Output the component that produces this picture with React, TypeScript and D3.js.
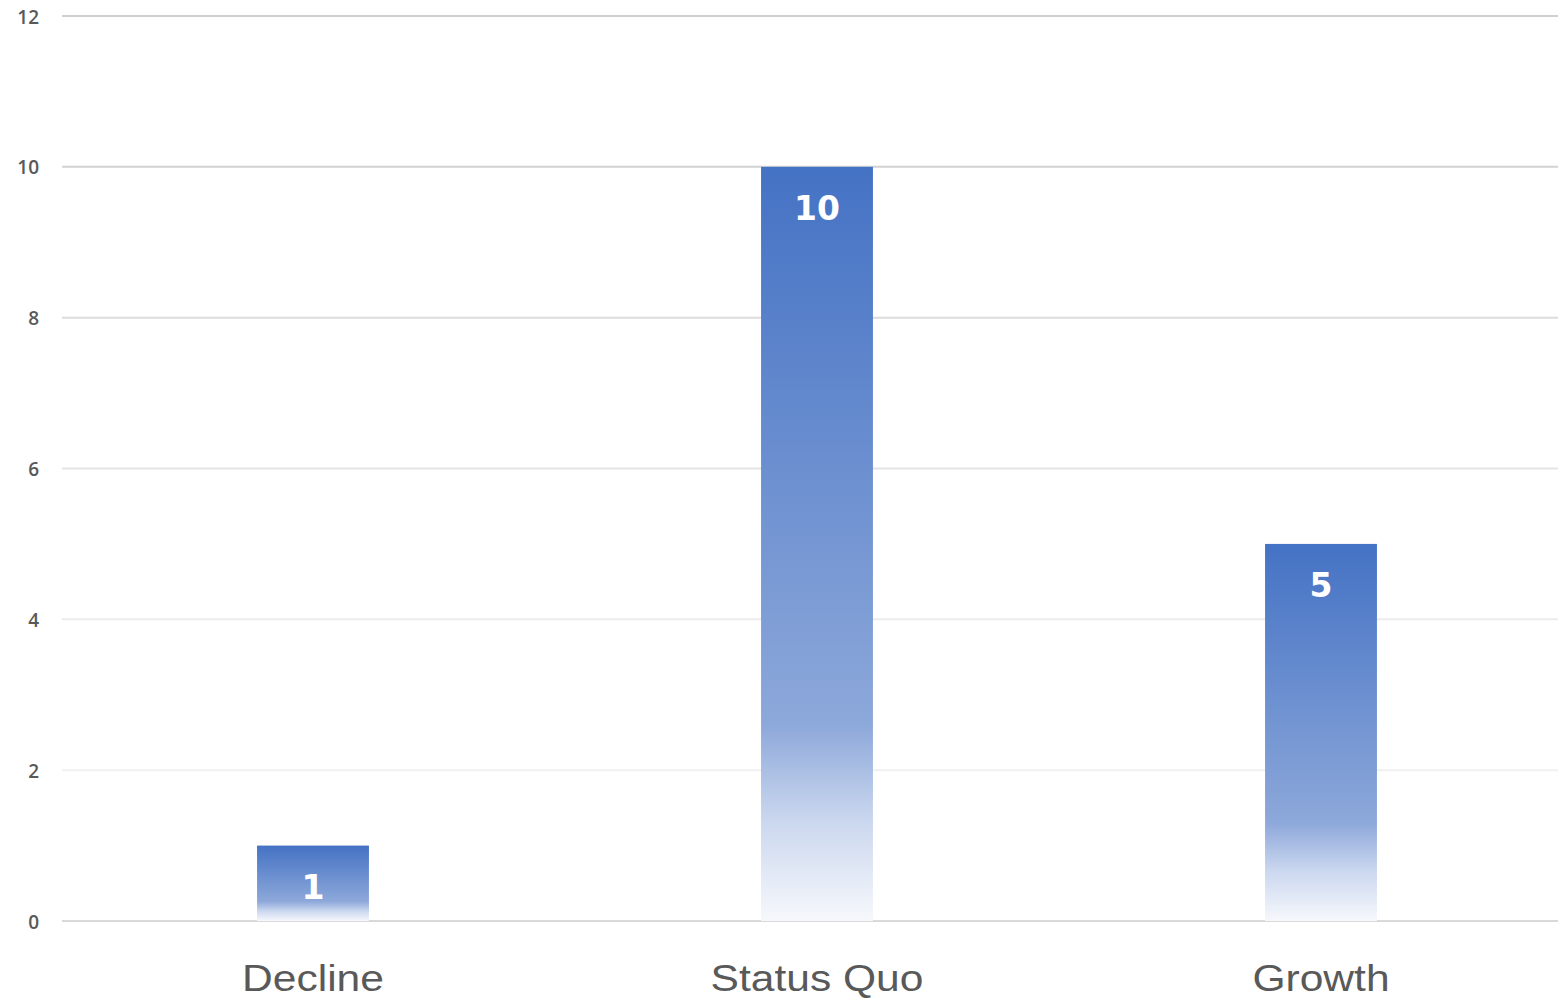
import React from "react";
import * as d3 from "d3";

// Scenario counts
const categories: string[] = ["Decline", "Status Quo", "Growth"];
const counts: number[] = [1, 10, 5];
const yTicks: number[] = [0, 2, 4, 6, 8, 10, 12];

// Gridline shades, top lines slightly darker
const gridShade: Record<number, string> = {
  0: "#d9d9d9",
  2: "#f0f0f0",
  4: "#ececec",
  6: "#e4e4e4",
  8: "#dcdcdc",
  10: "#d2d2d2",
  12: "#cfcfcf",
};

const W = 1558;
const H = 998;
const plotTop = 16;
const plotBottom = 921;
const plotLeft = 61;
const plotRight = 1573;
const gridLeft = 62;

export default function App() {
  const x = d3
    .scaleBand<string>()
    .domain(categories)
    .range([plotLeft, plotRight])
    .paddingInner(0.778)
    .paddingOuter(0.389);
  const y = d3.scaleLinear().domain([0, 12]).range([plotBottom, plotTop]);

  return (
    <svg
      width={W}
      height={H}
      style={{ position: "absolute", left: 0, top: 0, display: "block", background: "#fff" }}
    >
      <defs>
        <linearGradient id="barFade" x1="0" y1="0" x2="0" y2="1">
          <stop offset="0" stopColor="#4472C4" />
          <stop offset="0.74" stopColor="#8DA8DA" />
          <stop offset="0.87" stopColor="#CCD8EF" />
          <stop offset="1" stopColor="#F6F8FC" />
        </linearGradient>
      </defs>

      {yTicks.map((t) => (
        <g key={t}>
          <line
            x1={gridLeft}
            x2={W}
            y1={y(t)}
            y2={y(t)}
            stroke={gridShade[t]}
            strokeWidth={2}
          />
          <text
            x={39}
            y={y(t) + 1}
            dy="0.35em"
            textAnchor="end"
            fontFamily="'Open Sans', 'Liberation Sans', sans-serif"
            fontSize={19}
            fontWeight={600}
            fill="#595959"
          >
            {t}
          </text>
        </g>
      ))}

      {categories.map((c, i) => {
        const bx = x(c) as number;
        const bw = x.bandwidth();
        const top = y(counts[i]);
        return (
          <g key={c}>
            <rect
              x={bx}
              y={top}
              width={bw}
              height={y(0) - top}
              fill="url(#barFade)"
            />
            <text
              x={bx + bw / 2}
              y={top + 53}
              textAnchor="middle"
              fontFamily="'DejaVu Sans', sans-serif"
              fontWeight="bold"
              fontSize={33}
              fill="#ffffff"
            >
              {counts[i]}
            </text>
            <text
              transform={`translate(${bx + bw / 2},${991}) scale(1.15,1)`}
              textAnchor="middle"
              fontFamily="'Liberation Sans', Arial, sans-serif"
              fontSize={37}
              fill="#595959"
            >
              {c}
            </text>
          </g>
        );
      })}
    </svg>
  );
}
